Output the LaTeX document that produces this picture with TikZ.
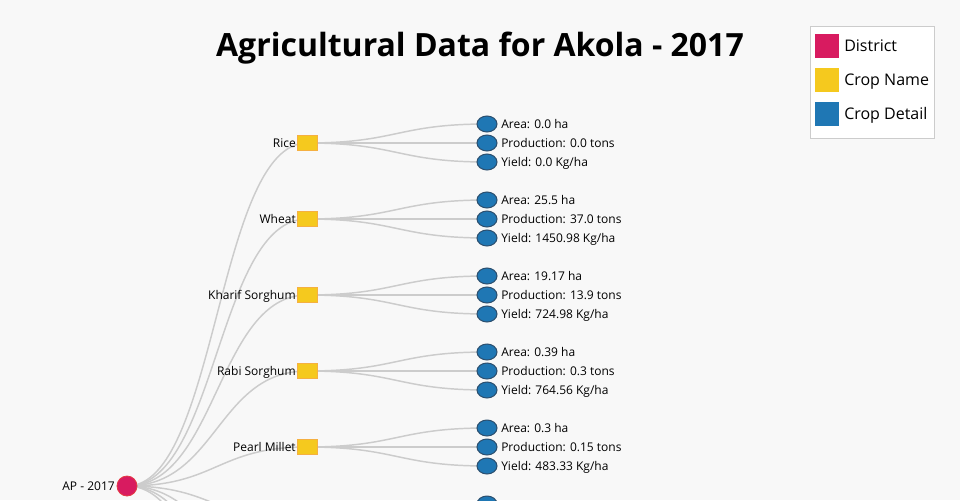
\documentclass[tikz,border=0pt]{standalone}
\usepackage{fontspec}
\setmainfont{Open Sans}
\usetikzlibrary{backgrounds}
\definecolor{bgpage}{HTML}{F8F8F8}
\definecolor{districtcol}{HTML}{D81B60}
\definecolor{cropcol}{HTML}{F5C91E}
\definecolor{cropedge}{HTML}{F5B041}
\definecolor{detailcol}{HTML}{1F77B4}
\definecolor{detailedge}{HTML}{2C4F6E}
\definecolor{linkcol}{HTML}{CCCCCC}
\tikzset{
    district/.style={circle, fill=districtcol, draw=districtcol!70!orange, line width=0.6pt, minimum size=15pt, inner sep=0pt}, % 区县节点
    crop/.style={rectangle, fill=cropcol, draw=cropedge, line width=0.75pt, minimum width=15pt, minimum height=11.25pt, inner sep=0pt}, % 作物节点
    detail/.style={ellipse, fill=detailcol, draw=detailedge, line width=0.75pt, minimum width=15pt, minimum height=12pt, inner sep=0pt}, % 详情节点
    link/.style={draw=linkcol, line width=1.1pt},
    lbl/.style={font=\fontsize{9}{10}\selectfont, inner sep=0pt},
    swatch/.style={fill=#1, minimum size=18pt, inner sep=0pt}
}
\usetikzlibrary{shapes.geometric}
\begin{document}
\begin{tikzpicture}[x=0.75pt, y=-0.75pt]
    \useasboundingbox (0,0) rectangle (960,500);
    \begin{scope}[on background layer]
        \fill[bgpage] (0,0) rectangle (960,500);
    \end{scope}
    \clip (0,0) rectangle (960,500);

    \def\xd{127} \def\xc{307} \def\xe{487} \def\yd{486}

    % 根节点
    \node[district] (ap) at (\xd,\yd) {};
    \node[lbl, anchor=base east] (aplbl) at (\xd-12,\yd+4.3) {AP - 2017};

    % 作物与详情
    \foreach \y/\name/\ar/\pr/\yl [count=\i] in {
        143/Rice/0.0/0.0/0.0,
        219/Wheat/25.5/37.0/1450.98,
        295/Kharif Sorghum/19.17/13.9/724.98,
        371/Rabi Sorghum/0.39/0.3/764.56,
        447/Pearl Millet/0.3/0.15/483.33} {
        \node[crop] (c\i) at (\xc,\y) {};
        \node[lbl, anchor=base east] (c\i lbl) at (\xc-11,\y+4.3) {\name};
        \node[detail] (d\i a) at (\xe,\y-19) {};
        \node[detail] (d\i b) at (\xe,\y) {};
        \node[detail] (d\i c) at (\xe,\y+19) {};
        \node[lbl, anchor=base west] (d\i alb) at (\xe+14,\y-19+4.3) {Area: \ar{} ha};
        \node[lbl, anchor=base west] (d\i blb) at (\xe+14,\y+4.3) {Production: \pr{} tons};
        \node[lbl, anchor=base west] (d\i clb) at (\xe+14,\y+19+4.3) {Yield: \yl{} Kg/ha};
        \begin{scope}[on background layer]
            \draw[link] (ap.center) .. controls (217,\yd) and (217,\y) .. (c\i.center);
            \foreach \k/\o in {a/-19,b/0,c/19}
                \draw[link] (c\i.center) .. controls (397,\y) and (397,\y+\o) .. (d\i\k.center);
        \end{scope}
    }

    % 画面下方被截断的部分
    \node[detail] (d6a) at (\xe,504) {};
    \foreach \y [count=\j from 6] in {523,599,675,751} {
        \coordinate (c\j) at (\xc,\y);
        \begin{scope}[on background layer]
            \draw[link] (ap.center) .. controls (217,\yd) and (217,\y) .. (c\j);
        \end{scope}
    }

    % 标题
    \node[font=\fontsize{24}{28}\bfseries, anchor=base, inner sep=0pt] (title) at (480,56) {Agricultural Data for Akola - 2017};

    % 图例
    \node[draw=linkcol, fill=white, line width=0.75pt, minimum width=93pt, minimum height=84pt, inner sep=0pt] (legend) at (872,82) {};
    \foreach \y/\col/\txt [count=\i] in {46/districtcol/District, 80/cropcol/Crop Name, 114/detailcol/Crop Detail} {
        \node[swatch=\col] (sw\i) at (827,\y) {};
        \node[anchor=base west, font=\fontsize{12}{14}\selectfont, inner sep=0pt] (lg\i) at (844,\y+5.7) {\txt};
    }
\end{tikzpicture}
\end{document}
